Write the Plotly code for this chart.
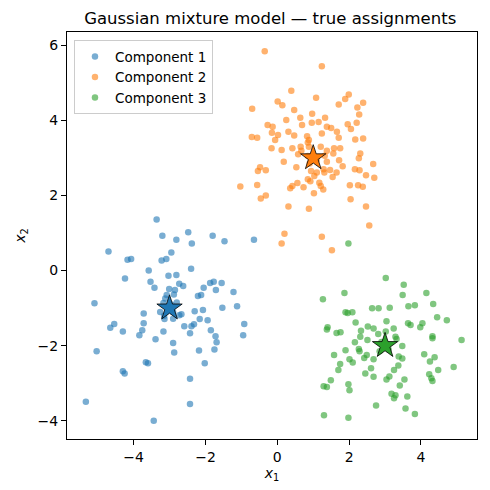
import plotly.graph_objects as go

# values
c1_x = [-3.36, -3.20, -4.70, -4.17, -4.07, -3.22, -3.09, -3.58, -4.24, -3.53,
        -3.42, -5.09, -3.72, -3.26, -2.81, -2.48, -2.38, -1.80, -1.47, -0.65,
        -2.95, -2.40, -3.03, -2.81, -2.73, -2.62, -3.01, -2.85, -2.88, -3.08,
        -2.05, -1.87, -1.77, -1.55, -1.71, -1.22, -2.21, -2.12, -1.53, -1.12,
        -2.30, -2.67, -3.14, -4.54, -4.65, -4.30, -3.72, -3.76, -3.84, -3.17,
        -3.39, -5.03, -3.66, -3.60, -4.30, -4.25, -5.33, -3.44, -2.90, -2.16,
        -1.94, -2.32, -2.59, -0.92, -2.43, -1.85, -1.72, -1.69, -0.95, -2.90,
        -2.87, -2.18, -1.75, -2.02, -2.43, -2.43, -3.12, -3.17, -2.07, -2.39,
        -2.73, -2.95, -3.05, -2.80, -3.15, -2.90]
c1_y = [1.36, 0.93, 0.51, 0.29, 0.31, 0.27, 0.31, 0.00, -0.21, -0.30,
        -0.46, -0.87, -1.14, -1.10, 0.82, 1.02, 0.72, 0.93, 0.78, 0.82,
        0.48, 0.05, -0.14, -0.12, -0.35, -0.41, -0.49, -0.52, -0.64, -0.65,
        -0.46, -0.33, -0.30, -0.33, -0.52, -0.57, -0.68, -0.65, -0.99, -0.95,
        -1.08, -1.16, -1.29, -1.42, -1.52, -1.62, -1.40, -1.59, -1.72, -1.62,
        -1.83, -2.15, -2.44, -2.47, -2.68, -2.74, -3.49, -4.00, -1.28, -1.29,
        -1.32, -1.43, -1.48, -1.42, -1.67, -1.59, -1.75, -1.91, -1.72, -1.93,
        -2.18, -2.13, -2.10, -2.47, -2.88, -3.55, -0.74, -0.86, -1.05, -1.48,
        -1.19, -0.90, -1.05, -0.85, -1.20, -1.10]

c2_x = [-0.35, 1.24, 0.39, 1.08, 1.99, 1.89, 2.39, 1.71, 0.01, 0.14,
        -0.70, 0.47, 2.23, 2.28, 0.97, 0.64, 0.25, 1.33, 0.96, 1.15,
        0.69, -0.27, -0.13, 1.96, 2.21, 2.05, 1.38, 1.50, 1.66, -0.15,
        0.02, 0.31, 0.47, 0.83, 1.24, 1.71, -0.71, -0.56, 2.17, 2.39,
        -0.06, 0.88, -0.16, 0.12, 0.42, 0.65, 0.67, 0.85, 0.88, 1.21,
        1.38, 1.58, 1.75, 2.31, 2.27, 1.56, 0.58, 1.32, 0.18, 1.38,
        1.72, 2.67, 1.82, 0.53, -0.48, -0.54, -0.32, 0.94, 1.10, 1.29,
        1.31, 1.47, 1.65, 2.16, 2.29, 2.47, 2.70, 1.54, 1.03, 0.85,
        0.92, 1.17, 0.56, 0.42, 0.36, 0.73, 1.21, 1.28, -1.03, -0.56,
        2.02, 2.25, 2.38, 1.02, -0.32, -0.46, 2.04, 0.31, 0.88, 2.47,
        2.56, 0.20, 1.24, 0.12, 1.52, 0.90, 1.10, 0.85]
c2_y = [5.84, 5.44, 4.79, 4.60, 4.69, 4.57, 4.47, 4.42, 4.50, 4.40,
        4.31, 4.28, 4.34, 4.16, 4.18, 4.07, 4.01, 4.07, 3.94, 3.96,
        3.88, 3.88, 3.83, 3.90, 3.94, 3.77, 3.83, 3.80, 3.70, 3.67,
        3.61, 3.70, 3.60, 3.58, 3.65, 3.54, 3.56, 3.54, 3.49, 3.52,
        3.48, 3.48, 3.26, 3.21, 3.26, 3.30, 3.19, 3.41, 3.30, 3.30,
        3.19, 3.26, 3.26, 3.12, 2.99, 3.12, 3.10, 3.06, 2.90, 2.90,
        2.94, 2.84, 2.78, 2.75, 2.75, 2.65, 2.67, 2.65, 2.61, 2.70,
        2.61, 2.68, 2.61, 2.70, 2.67, 2.54, 2.47, 2.49, 2.52, 2.43,
        2.38, 2.34, 2.33, 2.25, 2.19, 2.22, 2.25, 2.16, 2.24, 2.28,
        2.27, 2.27, 2.23, 2.06, 2.00, 1.92, 1.90, 1.71, 1.65, 1.71,
        1.20, 0.98, 0.90, 0.72, 0.54, 2.85, 2.95, 3.05]

c3_x = [1.98, 3.02, 1.27, 1.87, 1.90, 1.96, 2.09, 2.64, 2.82, 3.13,
        2.18, 3.04, 1.40, 2.52, 2.68, 2.33, 3.52, 3.49, 4.15, 3.65,
        3.83, 4.34, 4.45, 4.72, 3.64, 3.71, 4.04, 3.98, 3.24, 1.38,
        1.65, 1.76, 2.81, 3.02, 2.31, 2.51, 2.16, 1.90, 2.27, 2.29,
        2.49, 2.42, 2.68, 1.58, 2.01, 2.10, 1.75, 1.70, 2.61, 2.45,
        2.68, 3.04, 3.12, 1.49, 1.29, 1.38, 1.98, 2.01, 2.75, 1.30,
        1.98, 3.18, 3.29, 3.32, 4.32, 4.32, 5.13, 3.48, 4.09, 4.38,
        4.25, 3.38, 3.48, 3.37, 3.25, 4.48, 4.91, 4.23, 4.29, 4.32,
        3.54, 3.41, 3.29, 3.25, 3.62, 3.57, 3.83, 2.90, 3.10, 2.85]
c3_y = [0.72, -0.20, -0.76, -0.60, -1.11, -1.13, -1.11, -1.00, -1.00, -0.99,
        -1.38, -1.35, -1.51, -1.49, -1.54, -1.60, -0.38, -0.65, -0.60, -0.95,
        -0.92, -0.89, -1.24, -1.32, -1.40, -1.45, -1.40, -1.51, -1.54, -1.57,
        -1.66, -1.64, -1.69, -1.62, -1.76, -1.85, -1.91, -2.12, -2.09, -2.15,
        -2.25, -2.33, -2.36, -2.25, -2.36, -2.45, -2.49, -2.65, -2.60, -2.74,
        -2.83, -2.90, -2.82, -2.92, -3.08, -3.10, -3.03, -3.19, -3.59, -3.85,
        -3.92, -3.28, -1.76, -1.82, -1.75, -1.80, -1.85, -2.01, -2.23, -2.31,
        -2.42, -2.29, -2.34, -2.53, -2.65, -2.65, -2.57, -2.76, -2.87, -2.94,
        -2.90, -3.06, -3.32, -3.40, -3.35, -3.67, -3.82, -1.90, -2.10, -2.15]

names = ["Component 1", "Component 2", "Component 3"]
colors = ["#1f77b4", "#ff7f0e", "#2ca02c"]
mean_x = [-3, 1, 3]
mean_y = [-1, 3, -2]

fig = go.Figure()
for name, color, xs, ys in zip(names, colors, [c1_x, c2_x, c3_x], [c1_y, c2_y, c3_y]):
    fig.add_trace(go.Scatter(
        x=xs, y=ys, mode="markers", name=name,
        marker=dict(color=color, size=6.5, opacity=0.6, line=dict(width=0)),
    ))
for color, mx, my in zip(colors, mean_x, mean_y):
    fig.add_trace(go.Scatter(
        x=[mx], y=[my], mode="markers", showlegend=False,
        marker=dict(symbol="star", color=color, size=19,
                    line=dict(color="black", width=0.8)),
    ))

axis_style = dict(
    showline=True, linecolor="black", linewidth=1, mirror=True,
    ticks="outside", ticklen=5, tickcolor="black", showgrid=False,
    zeroline=False, tickfont=dict(size=14, color="black"),
)
# page body has an 8px margin, so the figure is 8px smaller and shifted
fig.update_layout(
    width=482, height=482,
    margin=dict(l=52, r=13, t=24, b=46),
    font=dict(family="DejaVu Sans", color="black"),
    paper_bgcolor="white", plot_bgcolor="white",
    title=dict(text="Gaussian mixture model — true assignments",
               x=0.544, xanchor="center", y=0.979, yanchor="middle",
               font=dict(size=16.5, color="black")),
    xaxis=dict(range=[-5.855, 5.56], dtick=2,
               title=dict(text="<i>x</i><sub>1</sub>", font=dict(size=14), standoff=3),
               **axis_style),
    yaxis=dict(range=[-4.485, 6.354], dtick=2,
               title=dict(text="<i>x</i><sub>2</sub>", font=dict(size=14), standoff=8),
               **axis_style),
    legend=dict(x=0.017, y=0.98, xanchor="left", yanchor="top",
                bgcolor="rgba(255,255,255,0.8)", bordercolor="#cccccc", borderwidth=1,
                font=dict(size=13.5), tracegroupgap=0),
)

fig.write_html("out.html")
